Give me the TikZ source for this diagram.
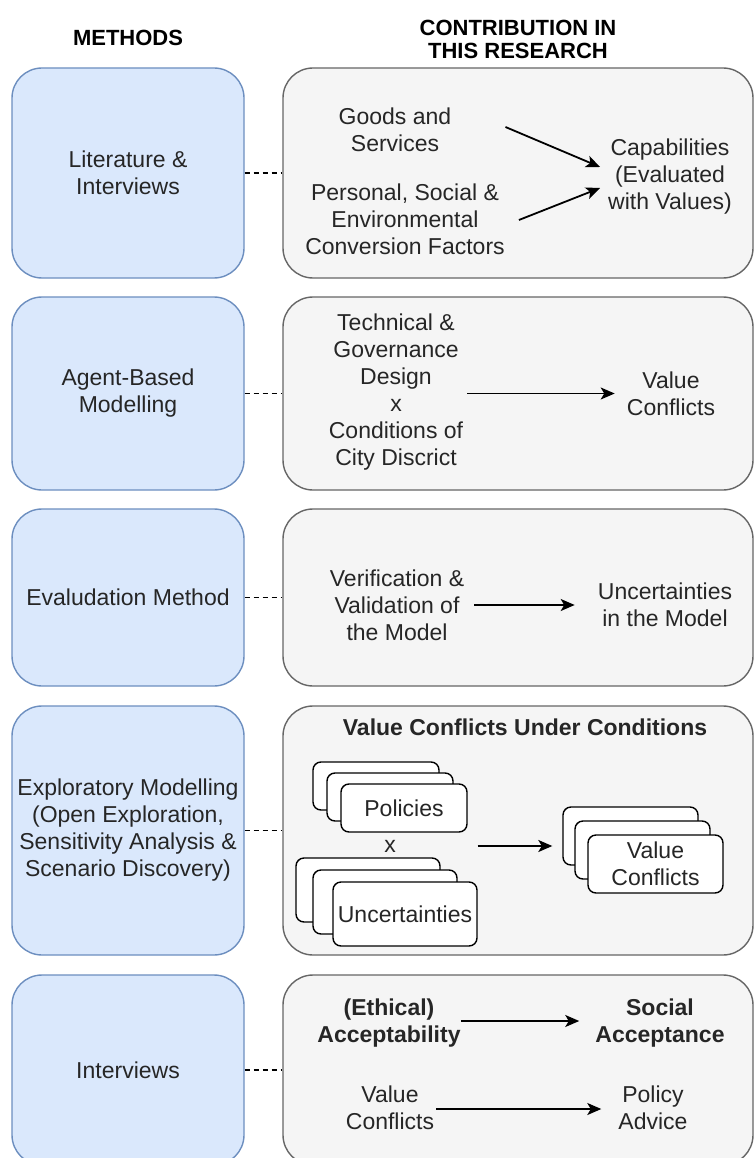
\documentclass[tikz,border=0pt]{standalone}
\usepackage{fontspec}
\setmainfont{Liberation Sans}
\usetikzlibrary{arrows.meta,calc}
\definecolor{bluefill}{HTML}{DAE8FC}
\definecolor{blueline}{HTML}{6C8EBF}
\definecolor{grayfill}{HTML}{F5F5F5}
\definecolor{grayline}{HTML}{666666}
\definecolor{txt}{HTML}{262626}
\begin{document}
\begin{tikzpicture}[x=1pt,y=-1pt,
  every node/.style={font=\fontsize{23}{27}\selectfont, text=txt, align=center, inner sep=2pt},
  method/.style={draw=blueline, fill=bluefill, line width=1.4pt, rounded corners=30pt, minimum width=232pt},
  contrib/.style={draw=grayline, fill=grayfill, line width=1.4pt, rounded corners=30pt, minimum width=470pt},
  card/.style={draw=black, fill=white, line width=1.4pt, rounded corners=8pt},
  head/.style={font=\bfseries\fontsize{22}{23}\selectfont, text=black},
  boldtxt/.style={font=\bfseries\fontsize{23}{27}\selectfont},
  link/.style={dash pattern=on 5pt off 4pt, line width=1.5pt, draw=black},
  arr/.style={-{Stealth[length=14pt,width=12pt,inset=3.5pt]}, line width=1.8pt, draw=black}
]
\useasboundingbox (0,0) rectangle (754,1158);

% headers
\node[head] (hm) at (128,38) {METHODS};
\node[head] (hc) at (518,39) {CONTRIBUTION IN\\THIS RESEARCH};

% method boxes
\node[method, minimum height=210pt] (m1) at (128,173) {Literature \&\\Interviews};
\node[method, minimum height=193pt] (m2) at (128,393.5) {Agent-Based\\Modelling};
\node[method, minimum height=177pt] (m3) at (128,597.5) {Evaludation Method};
\node[method, minimum height=249pt] (m4) at (128,830.5) {Exploratory Modelling\\(Open Exploration,\\Sensitivity Analysis \&\\Scenario Discovery)};
\node[method, minimum height=190pt] (m5) at (128,1070) {Interviews};

% contribution boxes
\node[contrib, minimum height=210pt] (g1) at (518,173) {};
\node[contrib, minimum height=193pt] (g2) at (518,393.5) {};
\node[contrib, minimum height=177pt] (g3) at (518,597.5) {};
\node[contrib, minimum height=249pt] (g4) at (518,830.5) {};
\node[contrib, minimum height=190pt] (g5) at (518,1070) {};

% dashed links
\draw[link] (m1.east) -- (g1.west);
\draw[link] (m2.east) -- (g2.west);
\draw[link] (m3.east) -- (g3.west);
\draw[link] (m4.east) -- (g4.west);
\draw[link] (m5.east) -- (g5.west);

% row 1
\node (a1) at (395,130) {Goods and\\Services};
\node (b1) at (405,219) {Personal, Social \&\\Environmental\\Conversion Factors};
\node (c1) at (670,177) {Capabilities\\(Evaluated\\with Values)};
\draw[arr] ($(a1.east)+(52,-3)$) -- ($(c1.west)+(-6,-10)$);
\draw[arr] ($(b1.east)+(12,1)$) -- ($(c1.west)+(-6,11)$);

% row 2
\node (d2) at (396,392.5) {Technical \&\\Governance\\Design\\x\\Conditions of\\City Discrict};
\node (e2) at (671,393.5) {Value\\Conflicts};
\draw[arr] ($(d2.east)+(2,1)$) -- ($(e2.west)+(-10,0)$);

% row 3
\node (f3) at (397,605) {Verification \&\\Validation of\\the Model};
\node (h3) at (665,605) {Uncertainties\\in the Model};
\draw[arr] ($(f3.east)+(8,0)$) -- ($(h3.west)+(-21,0)$);

% row 4
\node[boldtxt] (t4) at (525,727) {Value Conflicts Under Conditions};
\node[card, minimum width=126pt, minimum height=48pt] (p1) at (376,786) {};
\node[card, minimum width=126pt, minimum height=48pt] (p2) at (390,797) {};
\node[card, minimum width=126pt, minimum height=48pt] (p3) at (404,808) {Policies};
\node (x4) at (390,846) {x};
\node[card, minimum width=144pt, minimum height=64pt] (u1) at (368,890) {};
\node[card, minimum width=144pt, minimum height=64pt] (u2) at (385,902) {};
\node[card, minimum width=144pt, minimum height=64pt] (u3) at (405,914) {Uncertainties};
\node[card, minimum width=135pt, minimum height=58pt] (v1) at (630.5,836) {};
\node[card, minimum width=135pt, minimum height=58pt] (v2) at (642.5,850) {};
\node[card, minimum width=135pt, minimum height=58pt] (v3) at (655.5,864) {Value\\Conflicts};
\draw[arr, shorten >=10pt] (u3.east |- x4) -- (v1.west |- x4);

% row 5
\node[boldtxt] (i5) at (389,1023) {(Ethical)\\Acceptability};
\node[boldtxt] (j5) at (660,1023) {Social\\Acceptance};
\node (k5) at (390,1108) {Value\\Conflicts};
\node (l5) at (653,1108) {Policy\\Advice};
\draw[arr] ($(i5.east)+(-2,-2)$) -- ($(j5.west)+(-14,-2)$);
\draw[arr] ($(k5.east)+(0,1)$) -- ($(l5.west)+(-15,1)$);
\end{tikzpicture}
\end{document}
